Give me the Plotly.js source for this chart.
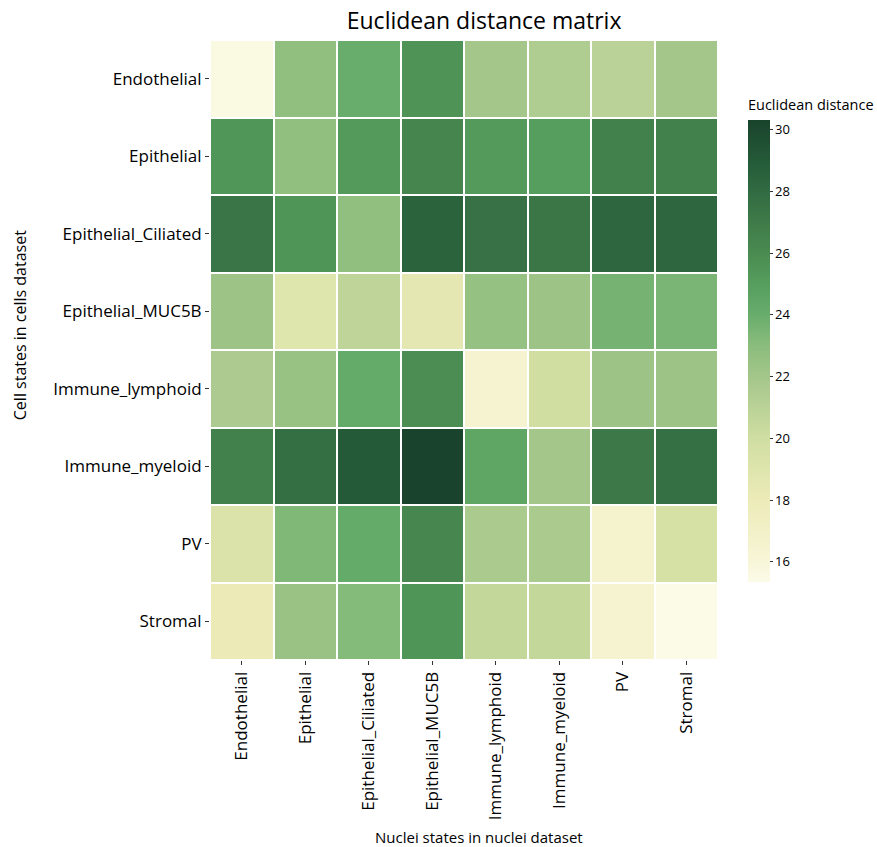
<!DOCTYPE html>
<html>
<head>
<meta charset="utf-8">
<script src="https://cdn.plot.ly/plotly-3.0.1.min.js"></script>
<style>html,body{margin:0;padding:0;background:#fff}</style>
</head>
<body>
<div id="chart" style="width:877px;height:847px"></div>
<script>
// Nuclei states (columns) and cell states (rows)
const nucleiStates = ["Endothelial", "Epithelial", "Epithelial_Ciliated", "Epithelial_MUC5B",
  "Immune_lymphoid", "Immune_myeloid", "PV", "Stromal"];
const cellStates = ["Endothelial", "Epithelial", "Epithelial_Ciliated", "Epithelial_MUC5B",
  "Immune_lymphoid", "Immune_myeloid", "PV", "Stromal"];

// Euclidean distances, one row per cell state
const rowEndothelial        = [15.6, 22.8, 24.0, 25.6, 22.0, 21.5, 21.0, 22.0];
const rowEpithelial         = [25.4, 22.8, 25.2, 26.4, 25.2, 25.0, 26.6, 26.6];
const rowEpithelialCiliated = [27.4, 25.5, 22.8, 28.5, 27.6, 27.3, 28.3, 28.3];
const rowEpithelialMUC5B    = [22.3, 19.0, 20.8, 18.6, 22.6, 22.3, 23.6, 23.5];
const rowImmuneLymphoid     = [21.6, 22.5, 24.2, 25.9, 16.5, 20.0, 22.3, 22.3];
const rowImmuneMyeloid      = [26.6, 27.8, 29.0, 30.3, 24.5, 22.0, 27.2, 27.7];
const rowPV                 = [19.2, 23.3, 24.2, 26.3, 21.7, 21.7, 16.6, 19.6];
const rowStromal            = [18.0, 22.4, 23.2, 25.5, 20.6, 20.6, 16.5, 15.4];

const distances = [rowEndothelial, rowEpithelial, rowEpithelialCiliated, rowEpithelialMUC5B,
  rowImmuneLymphoid, rowImmuneMyeloid, rowPV, rowStromal];

const zMin = 15.35, zMax = 30.32;
// yellow-to-green ramp, anchored on data values
const rampStops = [
  [15.35, "#fcfbe8"], [16, "#f8f6d8"], [18, "#ecebb8"], [20, "#d0dea2"],
  [22, "#a4c68b"], [23, "#8bbd7d"], [24, "#68ad6c"], [25, "#569e5e"],
  [26, "#4a8b51"], [27, "#3f7b49"], [28, "#316b42"], [29, "#245a38"], [30.32, "#19432c"]
];
const colorscale = rampStops.map(s => [(s[0] - zMin) / (zMax - zMin), s[1]]);

const font = "Open Sans, Lato, sans-serif";

Plotly.newPlot("chart", [{
  type: "heatmap",
  x: nucleiStates,
  y: cellStates,
  z: distances,
  zmin: zMin,
  zmax: zMax,
  colorscale: colorscale,
  xgap: 2,
  ygap: 2,
  hoverongaps: false,
  colorbar: {
    title: {text: "Euclidean distance", side: "top", font: {size: 14.5, color: "#000", family: font}},
    thickness: 22,
    len: 0.784,
    lenmode: "fraction",
    x: 1.059,
    xanchor: "left",
    y: 0.518,
    yanchor: "middle",
    xpad: 0,
    ypad: 0,
    outlinewidth: 0,
    ticks: "outside",
    ticklen: 3,
    tickcolor: "#333",
    tickvals: [16, 18, 20, 22, 24, 26, 28, 30],
    tickfont: {size: 13, color: "#000", family: font}
  }
}], {
  width: 877,
  height: 847,
  margin: {l: 210, r: 159, t: 40, b: 187, autoexpand: false},
  paper_bgcolor: "#fff",
  plot_bgcolor: "#fff",
  font: {family: font, color: "#000"},
  title: {text: "Euclidean distance matrix", x: 0.552, xanchor: "center", y: 0.975, yanchor: "middle",
    font: {size: 23, color: "#000", family: font}},
  xaxis: {
    type: "category",
    tickangle: -90,
    ticks: "outside",
    ticklen: 4,
    tickcolor: "#333",
    tickfont: {size: 17, color: "#000", family: font},
    showgrid: false,
    zeroline: false,
    showline: false
  },
  yaxis: {
    type: "category",
    autorange: "reversed",
    ticks: "outside",
    ticklen: 4,
    tickcolor: "#333",
    tickfont: {size: 17, color: "#000", family: font},
    showgrid: false,
    zeroline: false,
    showline: false
  },
  annotations: [
    {text: "Nuclei states in nuclei dataset", xref: "paper", yref: "paper",
      x: 0.529, y: -0.285, xanchor: "center", yanchor: "middle", showarrow: false,
      font: {size: 15, color: "#000", family: font}},
    {text: "Cell states in cells dataset", xref: "paper", yref: "paper", textangle: -90,
      x: -0.374, y: 0.540, xanchor: "center", yanchor: "middle", showarrow: false,
      font: {size: 16, color: "#000", family: font}}
  ]
}, {displayModeBar: false});
</script>
</body>
</html>
